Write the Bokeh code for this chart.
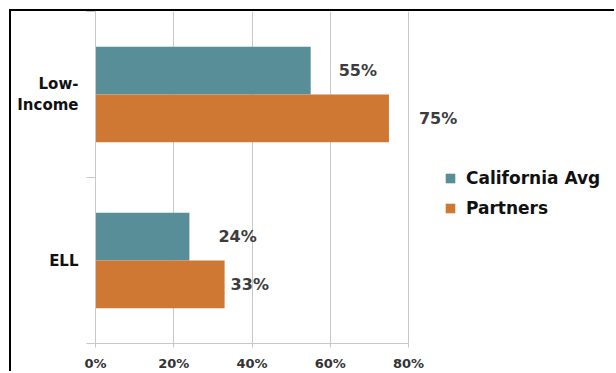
from bokeh.plotting import figure
from bokeh.models import (ColumnDataSource, Range1d, FixedTicker, PrintfTickFormatter,
                          LabelSet, Legend, LegendItem)
from bokeh.core.properties import value
from bokeh.embed import file_html
from bokeh.resources import INLINE
import numpy as np

categories = ["ELL", "Low-Income"]          # bottom to top
category_labels = ["ELL", "Low-\nIncome"]
series_names = ["California Avg", "Partners"]
california_avg = [24, 55]
partners = [33, 75]
x_ticks = [0, 20, 40, 60, 80]

colors = ["#588e98", "#cf7833"]
label_offsets_avg = [29, 28]
label_offsets_partners = [6, 30]

FONT = "DejaVu Sans"

# geometry (pixels)
axis_w = 313          # width of the 0..80% part
frame_w = 521         # frame extends to the right edge
frame_h = 332

x_max = x_ticks[-1] * frame_w / axis_w

p = figure(frame_width=frame_w, frame_height=frame_h, min_border_left=84, min_border_right=0,
           min_border_top=0, min_border_bottom=30,
           x_range=Range1d(0, x_max), y_range=Range1d(0, len(categories)),
           output_backend="svg", toolbar_location=None,
           margin=(11, 0, 0, 11),
           styles={"box-shadow": "-2px -2px 0px 0px #000"})
p.outline_line_color = None
p.background_fill_color = "white"
p.border_fill_color = "white"

centers = np.arange(len(categories)) + 0.5
bar_h = 0.288
src_avg = ColumnDataSource(dict(y=centers + bar_h / 2, x=california_avg,
                                txt=[f"{v}%" for v in california_avg], off=label_offsets_avg))
src_par = ColumnDataSource(dict(y=centers - bar_h / 2, x=partners,
                                txt=[f"{v}%" for v in partners], off=label_offsets_partners))

r1 = p.hbar(y="y", right="x", left=0, height=bar_h, source=src_avg,
            fill_color=colors[0], line_color=None)
r2 = p.hbar(y="y", right="x", left=0, height=bar_h, source=src_par,
            fill_color=colors[1], line_color=None)

for src in (src_avg, src_par):
    p.add_layout(LabelSet(x="x", y="y", text="txt", x_offset="off", source=src,
                          text_font=value(FONT), text_font_style="bold",
                          text_font_size="16px", text_color="#3c3c3c",
                          text_baseline="middle", text_align="left"))

# x axis
p.xaxis.ticker = FixedTicker(ticks=x_ticks)
p.xaxis.bounds = (x_ticks[0], x_ticks[-1])
p.xaxis.formatter = PrintfTickFormatter(format="%d%%")
p.xaxis.axis_line_color = "#c8c8c8"
p.xaxis.major_tick_line_color = "#c8c8c8"
p.xaxis.major_tick_out = 4
p.xaxis.major_tick_in = 0
p.xaxis.minor_tick_line_color = None
p.xaxis.major_label_text_font = FONT
p.xaxis.major_label_text_font_style = "bold"
p.xaxis.major_label_text_font_size = "13px"
p.xaxis.major_label_text_color = "#333333"
p.xaxis.major_label_standoff = 8

# y axis
p.yaxis.ticker = FixedTicker(ticks=list(centers),
                             minor_ticks=list(np.arange(len(categories) + 1)))
p.yaxis.major_label_overrides = {float(c): l for c, l in zip(centers, category_labels)}
p.yaxis.axis_line_color = "#c8c8c8"
p.yaxis.major_tick_line_color = None
p.yaxis.major_tick_out = 0
p.yaxis.major_tick_in = 0
p.yaxis.minor_tick_line_color = "#c8c8c8"
p.yaxis.minor_tick_out = 9
p.yaxis.minor_tick_in = 0
p.yaxis.major_label_text_font = FONT
p.yaxis.major_label_text_font_style = "bold"
p.yaxis.major_label_text_font_size = "15px"
p.yaxis.major_label_text_color = "#111111"
p.yaxis.major_label_standoff = 8

p.xgrid.grid_line_color = "#c8c8c8"
p.ygrid.grid_line_color = None

legend = Legend(items=[LegendItem(label=series_names[0], renderers=[r1]),
                       LegendItem(label=series_names[1], renderers=[r2])],
                location=(349, 125), orientation="vertical",
                glyph_width=12, glyph_height=12, label_standoff=10, spacing=10,
                label_text_font=FONT, label_text_font_style="bold",
                label_text_font_size="17px", label_text_color="#111111",
                border_line_color=None, background_fill_alpha=0, padding=0, margin=0)
p.add_layout(legend)

open("out.html", "w").write(file_html(p, INLINE))
